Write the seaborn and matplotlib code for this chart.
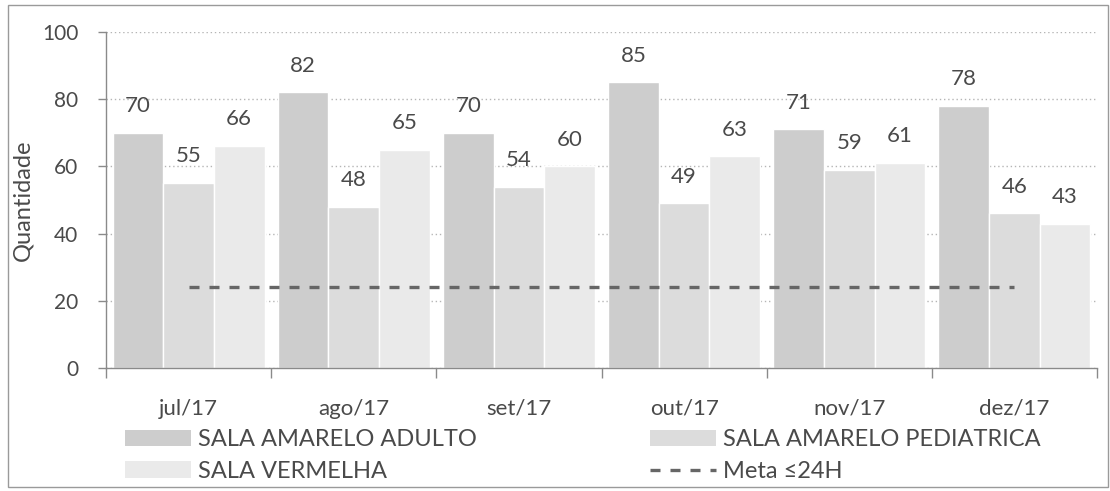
import pandas as pd
import numpy as np
import matplotlib
matplotlib.use("Agg")
import matplotlib.pyplot as plt
import seaborn as sns
from matplotlib.patches import Patch, Rectangle
from matplotlib.lines import Line2D

# dados
meses = ["jul/17", "ago/17", "set/17", "out/17", "nov/17", "dez/17"]
adulto = [70, 82, 70, 85, 71, 78]
pediatrica = [55, 48, 54, 49, 59, 46]
vermelha = [66, 65, 60, 63, 61, 43]
meta = [24, 24, 24, 24, 24, 24]

series = ["SALA AMARELO ADULTO", "SALA AMARELO PEDIATRICA", "SALA VERMELHA"]
cores = ["#cdcdcd", "#dcdcdc", "#eaeaea"]

sns.set_theme(style="white")
plt.rcParams['font.family'] = ['Lato', 'DejaVu Sans']

df = pd.DataFrame({
    "mes": meses * 3,
    "serie": [series[0]] * 6 + [series[1]] * 6 + [series[2]] * 6,
    "valor": adulto + pediatrica + vermelha,
})

fig = plt.figure(figsize=(11.1, 4.91), dpi=100)
ax = fig.add_axes([106 / 1110, 1 - 368 / 491, (1097 - 106) / 1110, (368 - 32) / 491])

sns.barplot(data=df, x="mes", y="valor", hue="serie", hue_order=series,
            palette=cores, width=0.92, ax=ax, legend=False, saturation=1)

xs = np.arange(len(meses))
ax.plot(xs, meta, color="#666666", lw=2.4, ls=(0, (3, 3)), zorder=3)

txt = "#4a4a4a"
for cont in ax.containers:
    for bar in cont:
        h = bar.get_height()
        ax.text(bar.get_x() + bar.get_width() / 2, h + 5, f"{h:.0f}",
                ha="center", va="bottom", fontsize=16, color=txt)

ax.set_ylim(0, 100)
ax.set_xlim(-0.5, 5.5)
ax.set_yticks([0, 20, 40, 60, 80, 100])
ax.yaxis.grid(True, ls=(0, (1, 2)), color="#b5b5b5", lw=1)
ax.set_axisbelow(True)
ax.set_xlabel("")
ax.set_ylabel("Quantidade", fontsize=17, color=txt, labelpad=6)

for s in ["top", "right"]:
    ax.spines[s].set_visible(False)
for s in ["left", "bottom"]:
    ax.spines[s].set_color("#8a8a8a")
    ax.spines[s].set_linewidth(1)

ax.tick_params(axis="y", labelsize=15, colors=txt, length=6, width=1,
               color="#8a8a8a", direction="out", left=True, pad=14)
ax.tick_params(axis="x", labelsize=16, colors=txt, length=0, pad=22)
ax.set_xticks(np.arange(-0.5, 6, 1), minor=True)
ax.tick_params(axis="x", which="minor", length=7, width=1, color="#8a8a8a",
               bottom=True, direction="out")

handles = [
    Patch(facecolor=cores[0], edgecolor="none"),
    Patch(facecolor=cores[2], edgecolor="none"),
    Patch(facecolor=cores[1], edgecolor="none"),
    Line2D([0], [0], color="#666666", lw=2.4, ls=(0, (3, 3))),
]
labels = [series[0], series[2], series[1], "Meta ≤24H"]
leg = fig.legend(handles, labels, ncol=2, loc="upper left",
                 bbox_to_anchor=(104 / 1110, 1 - 408 / 491), frameon=False,
                 fontsize=17, handlelength=2.8, handletextpad=0.3,
                 columnspacing=7.3, labelspacing=0.45, labelcolor=txt)

fig.patches.append(Rectangle((8 / 1110, 4 / 491), 1100 / 1110, 482 / 491,
                             transform=fig.transFigure, fill=False,
                             edgecolor="#9a9a9a", lw=1))

fig.savefig("out.png", dpi=100, facecolor="white")
